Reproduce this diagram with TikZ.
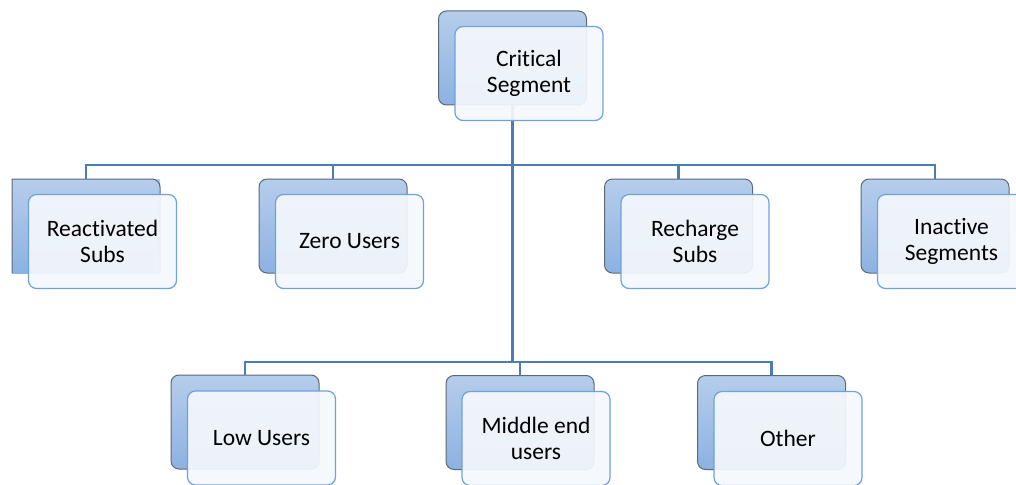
\documentclass[tikz,border=0pt]{standalone}
\usepackage{fontspec}
\setmainfont[Ligatures=NoCommon]{Carlito}
\definecolor{backtop}{HTML}{B6CDEB}
\definecolor{backbot}{HTML}{8CB2E2}
\definecolor{backline}{HTML}{5E6873}
\definecolor{frontline}{HTML}{6DA2DB}
\definecolor{frontfill}{HTML}{F5F8FC}
\definecolor{conncol}{HTML}{4A7CB6}
\tikzset{
  backbox/.style={draw=backline, line width=1pt, rounded corners=8pt,
    top color=backtop, bottom color=backbot, shading angle=0,
    minimum width=148pt, minimum height=94pt, inner sep=0pt},
  frontbox/.style={draw=frontline, line width=1.2pt, rounded corners=8pt,
    fill=frontfill, fill opacity=0.92, text opacity=1,
    minimum width=148pt, minimum height=94pt, inner sep=2pt,
    align=center, font=\fontsize{23.5}{26}\selectfont},
  conn/.style={draw=conncol, line width=2.8pt},
}
\begin{document}
\begin{tikzpicture}[x=1pt,y=-1pt]
\useasboundingbox (0,0) rectangle (1016,484);
\clip (0,0) rectangle (1016,484);
\fill[white] (0,0) rectangle (1016,484);

% back (shaded) boxes
\node[backbox] (critB)  at (512.5,58) {};
\node[backbox, rounded corners=0pt, draw=none, shading=axis] (reactB) at (86,226) {};
\draw[backline, line width=1pt] (12,273) -- (12,179) [rounded corners=8pt] -- (160,179) -- (160,273);
\node[backbox] (zeroB)  at (333,226) {};
\node[backbox] (rechB)  at (678.5,226) {};
\node[backbox] (inacB)  at (935,226) {};
\node[backbox] (lowB)   at (245,422) {};
\node[backbox] (midB)   at (520,422.5) {};
\node[backbox] (othB)   at (771.5,422.5) {};

% junctions of the two bars
\coordinate (j1) at (512.5,165);
\coordinate (j2) at (512.5,362);

% connectors
\draw[conn] (reactB.north) |- (j1) -| (inacB.north);
\draw[conn] (zeroB.north) -- (zeroB.north |- j1);
\draw[conn] (rechB.north) -- (rechB.north |- j1);
\draw[conn] (critB.south) -- (j2);
\draw[conn] (lowB.north) |- (j2) -| (othB.north);
\draw[conn] (midB.north) -- (midB.north |- j2);

% front (labelled) boxes
\node[frontbox] (crit)  at (529,73.5)   {Critical\\Segment};
\node[frontbox] (react) at (102.5,241.5) {Reactivated\\Subs};
\node[frontbox] (zero)  at (349.5,241.5) {Zero Users};
\node[frontbox] (rech)  at (695,241.5)  {Recharge\\Subs};
\node[frontbox] (inac)  at (951.5,241.5) {Inactive\\Segments};
\node[frontbox] (low)   at (261.5,438)  {Low Users};
\node[frontbox] (mid)   at (536,438.5)  {Middle end\\users};
\node[frontbox] (oth)   at (788,438.5)  {Other};
\end{tikzpicture}
\end{document}
